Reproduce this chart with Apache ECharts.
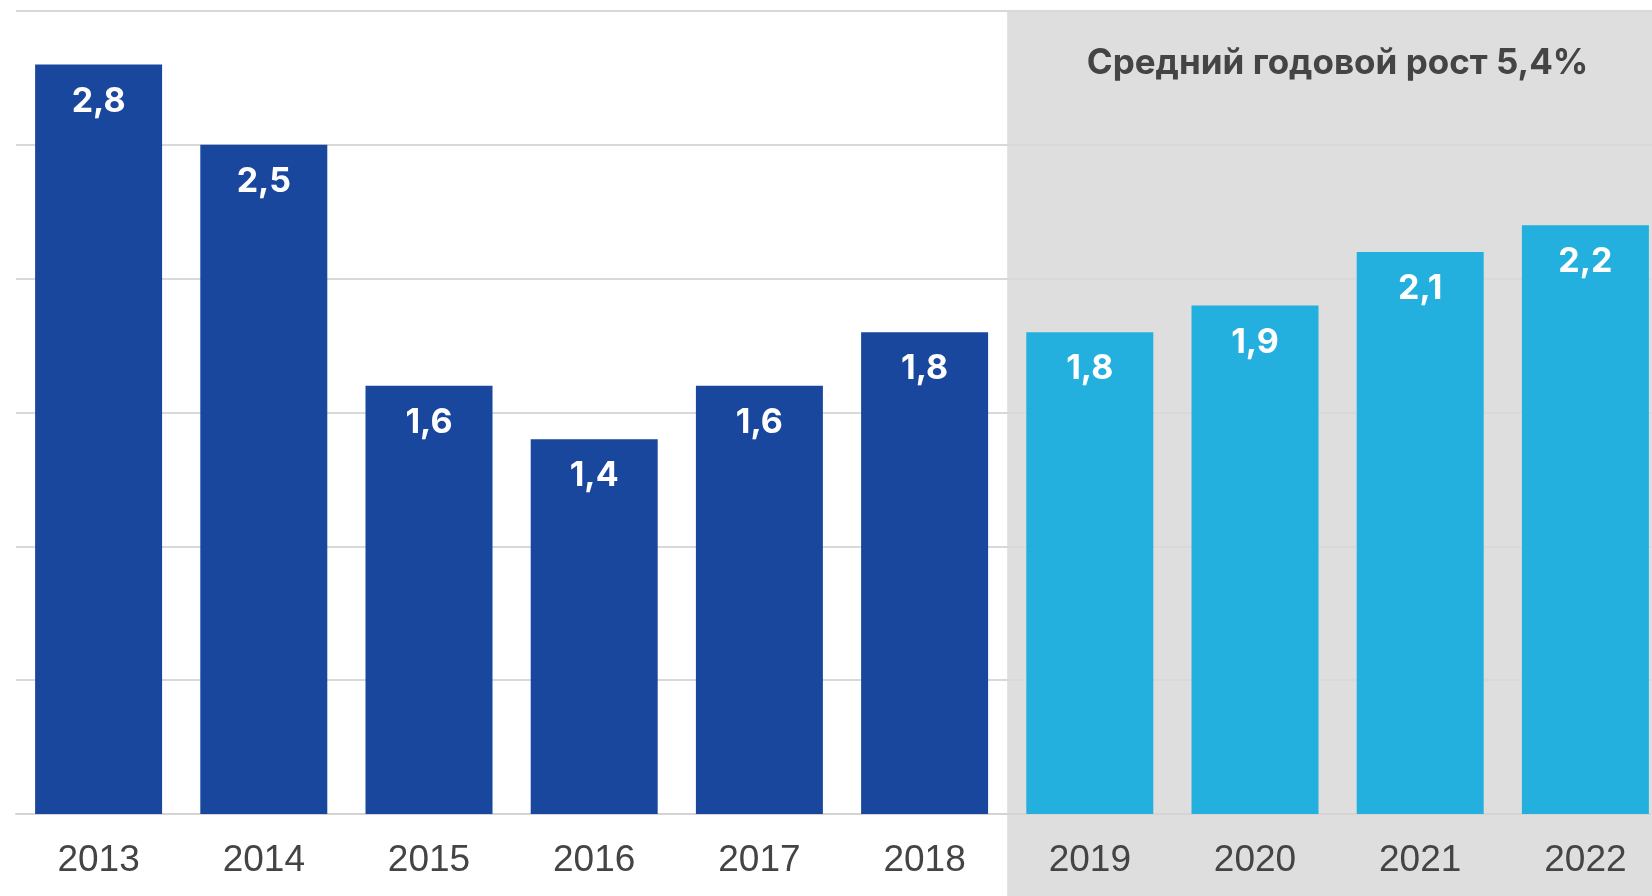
<!DOCTYPE html>
<html>
<head>
<meta charset="utf-8">
<style>
  html, body { margin: 0; padding: 0; background: #fff; }
  #chart { width: 1652px; height: 896px; }
</style>
<script src="https://cdn.jsdelivr.net/npm/echarts@6/dist/echarts.min.js"></script>
</head>
<body>
<div id="chart"></div>
<script>
// данные
var years = ['2013', '2014', '2015', '2016', '2017', '2018', '2019', '2020', '2021', '2022']
var values = [2.8, 2.5, 1.6, 1.4, 1.6, 1.8, 1.8, 1.9, 2.1, 2.2]
var forecastFrom = '2019'
var noteText = 'Средний годовой рост 5,4%'

var dark = '#1a479e'
var light = '#24b0de'

var chart = echarts.init(document.getElementById('chart'))

var firstForecast = years.indexOf(forecastFrom)
var barData = values.map(function (v, i) {
    return { value: v, itemStyle: { color: i >= firstForecast ? light : dark } }
})

var option = {
    animation: false,
    grid: {
        left: 16, top: 11, width: 1652, height: 803,
        containLabel: false, outerBoundsMode: 'none'
    },
    xAxis: {
        type: 'category',
        data: years,
        axisLine: { lineStyle: { color: '#d4d4d4', width: 2 } },
        axisTick: { show: false },
        axisLabel: {
            color: '#444',
            fontFamily: 'Liberation Sans',
            fontSize: 37,
            margin: 28
        }
    },
    yAxis: {
        type: 'value',
        min: 0,
        max: 3,
        interval: 0.5,
        axisLabel: { show: false },
        axisLine: { show: false },
        axisTick: { show: false },
        splitLine: { lineStyle: { color: '#d9d9d9', width: 2 } }
    },
    series: [{
        type: 'bar',
        data: barData,
        barWidth: 127,
        z: 3,
        label: {
            show: true,
            position: 'insideTop',
            distance: 20,
            color: '#fff',
            fontFamily: 'Inter',
            fontWeight: 'bold',
            fontSize: 34,
            formatter: function (p) {
                return String(p.value).replace('.', ',')
            }
        }
    }]
}
chart.setOption(option)

// серая зона прогноза
var xPrev = chart.convertToPixel({ xAxisIndex: 0 }, years[firstForecast - 1])
var xNext = chart.convertToPixel({ xAxisIndex: 0 }, years[firstForecast])
var xStart = (xPrev + xNext) / 2
var yTop = chart.convertToPixel({ yAxisIndex: 0 }, 3)
var W = chart.getWidth()
var H = chart.getHeight()

chart.setOption({
    graphic: [{
        type: 'rect',
        z: -10,
        silent: true,
        shape: { x: xStart, y: yTop, width: W - xStart, height: H - yTop },
        style: { fill: '#dedede' }
    }, {
        type: 'text',
        z: 10,
        silent: true,
        x: (xStart + W) / 2 + 8,
        y: yTop + 52,
        style: {
            text: noteText,
            fill: '#444',
            fontFamily: 'Inter',
            fontWeight: 'bold',
            fontSize: 35,
            align: 'center',
            verticalAlign: 'middle'
        }
    }]
})
</script>
</body>
</html>
